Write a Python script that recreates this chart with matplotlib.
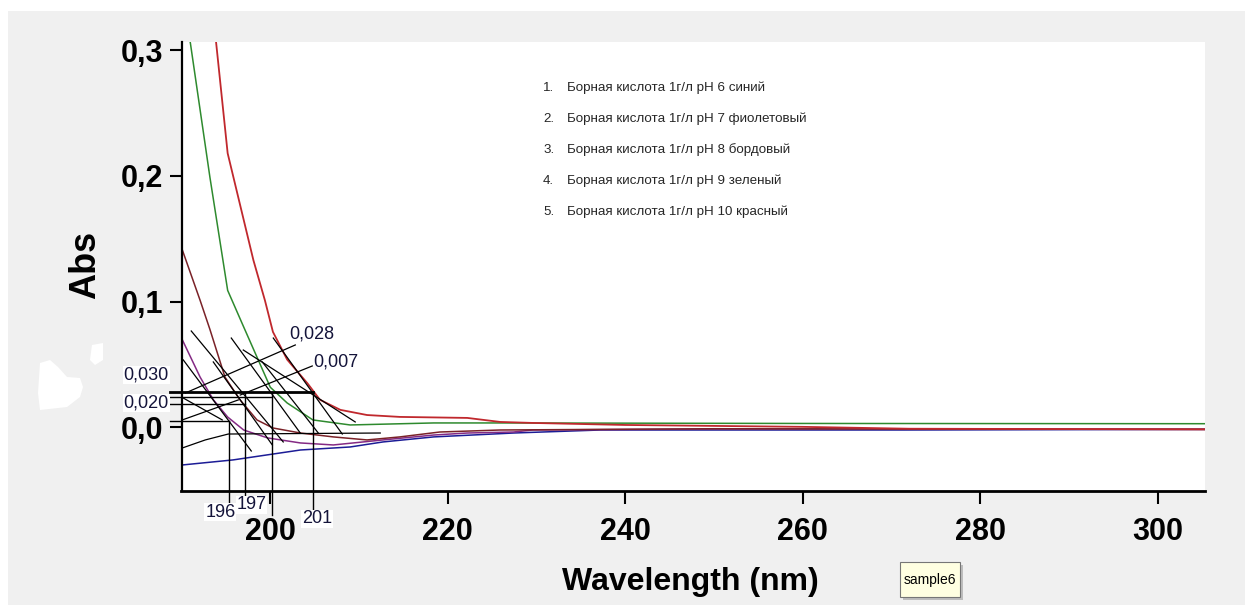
import numpy as np
import matplotlib.pyplot as plt
from matplotlib.patches import Rectangle, Polygon

# spectra (wavelength, nm / absorbance)
wl_blue = [190.1, 195.8, 203.4, 209.0, 212.7, 218.4, 227.4, 237.2, 271.5, 305.3]
abs_blue = [-0.0298, -0.0258, -0.0179, -0.0155, -0.0115, -0.0075, -0.0044, -0.0020, -0.0020, -0.0015]

wl_violet = [190.1, 192.1, 193.6, 195.2, 197.0, 199.7, 203.4, 207.1, 212.7, 218.4, 222.2, 227.4, 229.6, 250.0, 305.3]
abs_violet = [0.0696, 0.040, 0.0219, 0.0083, -0.0020, -0.0083, -0.0123, -0.0139, -0.0099, -0.0060, -0.0044, -0.0036,
              -0.0020, -0.0012, -0.0015]

wl_maroon = [190.1, 192.1, 193.2, 194.9, 196.6, 198.5, 200.3, 203.4, 207.1, 210.9, 214.6, 219.1, 225.9, 250.0, 305.3]
abs_maroon = [0.141, 0.101, 0.078, 0.040, 0.0219, 0.0060, -0.0004, -0.0044, -0.0075, -0.0099, -0.0075, -0.0036,
              -0.0020, -0.0010, -0.0015]

wl_green = [190.0, 191.0, 193.2, 195.2, 197.0, 198.5, 200.0, 201.9, 204.8, 209.0, 218.4, 225.9, 260.0, 305.3]
abs_green = [0.345, 0.3056, 0.199, 0.109, 0.080, 0.056, 0.032, 0.0195, 0.0060, 0.0020, 0.0036, 0.0036, 0.0032, 0.0030]

wl_red = [193.3, 193.9, 195.2, 198.1, 199.4, 200.3, 201.9, 204.2, 205.6, 207.9, 210.9, 214.6, 222.2, 225.9, 229.6,
          240.0, 260.0, 272.0, 305.3]
abs_red = [0.350, 0.306, 0.218, 0.133, 0.101, 0.076, 0.054, 0.035, 0.022, 0.0140, 0.0099, 0.0084, 0.0076, 0.0044,
           0.0036, 0.0020, 0.0005, -0.0010, -0.0015]

legend_lines = ['Борная кислота 1г/л pH 6 синий',
                'Борная кислота 1г/л pH 7 фиолетовый',
                'Борная кислота 1г/л pH 8 бордовый',
                'Борная кислота 1г/л pH 9 зеленый',
                'Борная кислота 1г/л pH 10 красный']

x_ticks = [200, 220, 240, 260, 280, 300]
y_ticks = [0.0, 0.1, 0.2, 0.3]
y_ticklabels = ['0,0', '0,1', '0,2', '0,3']

# hand drawn construction lines (data units)
tangents_x = [(191.1, 201.46), (190.2, 197.86), (195.61, 203.38), (196.96, 209.57), (200.34, 208.11),
              (199.10, 205.41), (193.58, 200.23), (190.2, 194.59), (190.43, 202.82), (196.62, 204.73),
              (190.09, 196.40)]
tangents_y = [(0.0767, -0.0115), (0.0537, -0.0187), (0.0711, -0.0044), (0.0616, 0.0044), (0.0711, -0.0052),
              (0.0521, -0.0044), (0.0521, -0.0139), (0.0234, 0.0060), (0.0274, 0.0656), (0.0258, 0.0489),
              (0.0060, 0.0219)]
base_x = [190.09, 192.68, 195.27, 212.39]
base_y = [-0.0163, -0.0099, -0.0052, -0.0044]
hlines_y = [0.0282, 0.0242, 0.0187, 0.0052]
hlines_x2 = [204.84, 200.23, 197.18, 195.38]
vlines_x = [195.38, 197.18, 200.23, 204.84]
vlines_top = [0.0052, 0.0282, 0.0282, 0.0282]
vlines_bot = [-0.060, -0.060, -0.0696, -0.0664]
marks = ['196', '197', '201', '0,030', '0,020', '0,028', '0,007']
marks_x = [194.37, 197.86, 205.29, 186.04, 186.04, 204.73, 207.43]
marks_y = [-0.0672, -0.0616, -0.0727, 0.0417, 0.0195, 0.0743, 0.0521]

W, H = 1245, 605


def fx(p):
    return p / W


def fy(p):
    return 1 - p / H


fig = plt.figure(figsize=(W / 100, H / 100), dpi=100, facecolor='white')
fig.patches.append(Rectangle((fx(8), 0), 1, fy(11), transform=fig.transFigure, fc='#f0f0f0', ec='none', zorder=-5))
blob1 = [(40, 363), (50, 360), (58, 367), (67, 377), (80, 378), (83, 387), (80, 397), (67, 407), (40, 410), (38, 393)]
blob2 = [(92, 345), (103, 343), (103, 360), (95, 365), (90, 360)]
for b in (blob1, blob2):
    fig.patches.append(Polygon([(fx(x), fy(y)) for x, y in b], closed=True, transform=fig.transFigure,
                               fc='white', ec='none', zorder=-4))

ax = fig.add_axes([fx(181.5), fy(491), fx(1205 - 181.5), (491 - 41.7) / H])
ax.set_facecolor('white')

ax.plot(wl_blue, abs_blue, color='#1c1c96', lw=1.1)
ax.plot(wl_violet, abs_violet, color='#842a84', lw=1.1)
ax.plot(wl_maroon, abs_maroon, color='#7a2228', lw=1.1)
ax.plot(wl_green, abs_green, color='#2e8a2e', lw=1.1)
ax.plot(wl_red, abs_red, color='#c0282d', lw=1.3)

for xs, ys in zip(tangents_x, tangents_y):
    ax.plot(xs, ys, color='black', lw=0.9, clip_on=False, zorder=4)
ax.plot(base_x, base_y, color='black', lw=0.9, zorder=4)
for i, (y, x2) in enumerate(zip(hlines_y, hlines_x2)):
    ax.plot([188.74, x2], [y, y], color='black', lw=2.0 if i == 0 else 1.0, clip_on=False, zorder=4)
for x, y1, y2 in zip(vlines_x, vlines_top, vlines_bot):
    ax.plot([x, x], [y1, y2], color='black', lw=1.0, clip_on=False, zorder=4)
for s, x, y in zip(marks, marks_x, marks_y):
    ax.text(x, y, s, ha='center', va='center', fontsize=13, color='#14143a', family='Liberation Sans',
            bbox=dict(fc='white', ec='none', pad=0.5), zorder=6, clip_on=False)

ax.set_xlim(190, 305.3)
ax.set_ylim(-0.0505, 0.3067)
ax.set_xticks(x_ticks)
ax.set_xticklabels([str(v) for v in x_ticks])
ax.set_yticks(y_ticks)
ax.set_yticklabels(y_ticklabels)
ax.tick_params(axis='both', length=9, width=1.5, labelsize=22, color='black')
ax.tick_params(axis='x', pad=10)
ax.tick_params(axis='y', pad=4)
for lab in ax.get_xticklabels() + ax.get_yticklabels():
    lab.set_fontweight('bold')
    lab.set_family('Liberation Sans')
for s in ['top', 'right']:
    ax.spines[s].set_visible(False)
ax.spines['left'].set_linewidth(1.6)
ax.spines['bottom'].set_linewidth(2.0)

ax.set_ylabel('Abs', fontsize=26, fontweight='bold', family='Liberation Sans', va='center')
ax.yaxis.set_label_coords(-0.094, 0.503)
ax.set_xlabel('Wavelength (nm)', fontsize=23, fontweight='bold', family='Liberation Sans', va='center')
ax.xaxis.set_label_coords(0.497, -0.2025)

for i, s in enumerate(legend_lines):
    y = fy(88 + 31 * i)
    fig.text(fx(543), y, f'{i + 1}.', fontsize=9.6, color='#262626', va='center', family='Liberation Sans')
    fig.text(fx(567), y, s, fontsize=9.6, color='#262626', va='center', family='Liberation Sans')

fig.patches.append(Rectangle((fx(903), fy(600)), fx(60), 35 / H, transform=fig.transFigure,
                             fc='#bdbdbd', ec='none', zorder=5))
fig.patches.append(Rectangle((fx(900), fy(597)), fx(60), 35 / H, transform=fig.transFigure,
                             fc='#ffffe1', ec='#767676', lw=0.8, zorder=6))
fig.text(fx(930), fy(580), 'sample6', fontsize=10, ha='center', va='center', family='Liberation Sans', zorder=7)

fig.savefig('out.png', dpi=100)
